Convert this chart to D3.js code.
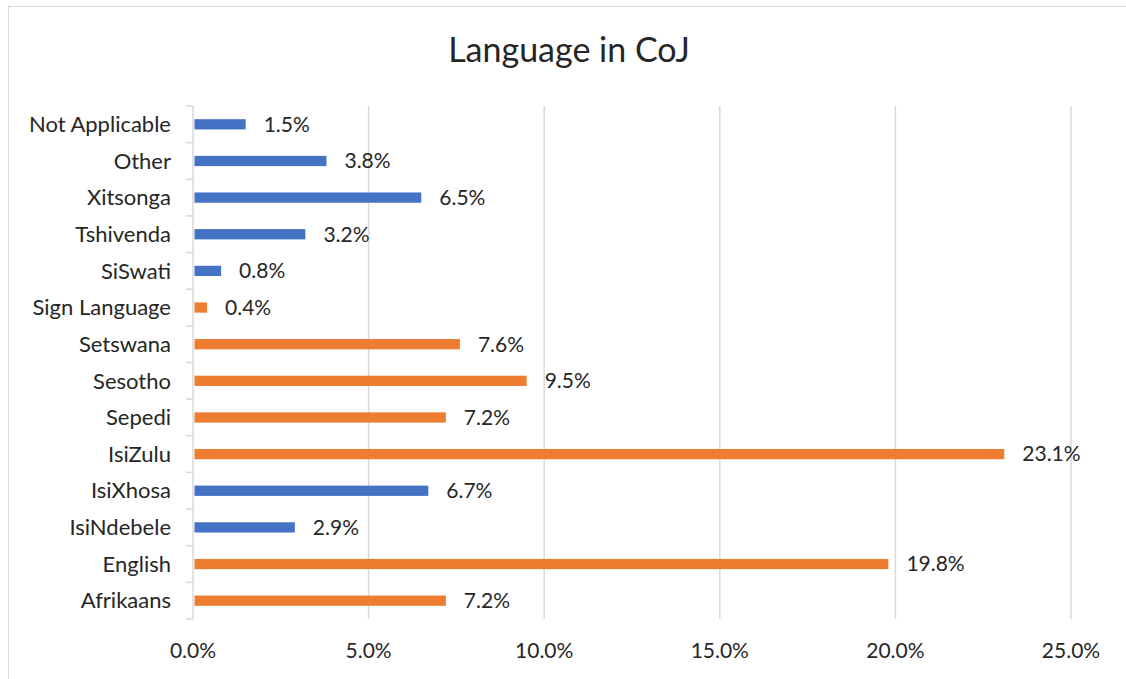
<!DOCTYPE html>
<meta charset="utf-8">
<head>
<script src="https://d3js.org/d3.v7.min.js"></script>
<style>
  body { margin: 0; background: #fff; }
  text { font-family: Lato, "Open Sans", sans-serif; fill: #262626; }
</style>
</head>
<body>
<svg id="chart" width="1126" height="679"></svg>
<script>
// data, bottom to top as in the chart
var languages = ["Afrikaans", "English", "IsiNdebele", "IsiXhosa", "IsiZulu", "Sepedi", "Sesotho",
  "Setswana", "Sign Language", "SiSwati", "Tshivenda", "Xitsonga", "Other", "Not Applicable"];
var shares = [7.2, 19.8, 2.9, 6.7, 23.1, 7.2, 9.5, 7.6, 0.4, 0.8, 3.2, 6.5, 3.8, 1.5];
var groups = ["o", "o", "b", "b", "o", "o", "o", "o", "o", "b", "b", "b", "b", "b"];
var ticks = [0, 5, 10, 15, 20, 25];

var colors = { o: "#ed7d31", b: "#4472c4" };

var svg = d3.select("#chart");

// chart border
svg.append("rect")
  .attr("x", 8.5).attr("y", 6.5)
  .attr("width", 1130).attr("height", 690)
  .attr("fill", "none")
  .attr("stroke", "#d9d9d9");

// title
svg.append("text")
  .attr("x", 569).attr("y", 62)
  .attr("text-anchor", "middle")
  .style("font-size", "34px")
  .text("Language in CoJ");

var x = d3.scaleLinear().domain([0, 25]).range([193, 1071]);
var y = d3.scaleBand()
  .domain(languages.slice().reverse())
  .range([106, 619])
  .paddingInner(0.72)
  .paddingOuter(0.36);

// gridlines
svg.append("g")
  .selectAll("line")
  .data(ticks.slice(1))
  .enter()
  .append("line")
    .attr("x1", d => x(d)).attr("x2", d => x(d))
    .attr("y1", 106).attr("y2", 619)
    .attr("stroke", "#d9d9d9")
    .attr("stroke-width", 1.5);

// x tick labels
svg.append("g")
  .selectAll("text")
  .data(ticks)
  .enter()
  .append("text")
    .attr("x", d => x(d))
    .attr("y", 658)
    .attr("text-anchor", "middle")
    .style("font-size", "21px")
    .text(d => d.toFixed(1) + "%");

// category axis line with tick marks between categories
var axis = svg.append("g");
axis.append("line")
  .attr("x1", 193).attr("x2", 193)
  .attr("y1", 106).attr("y2", 619)
  .attr("stroke", "#d9d9d9")
  .attr("stroke-width", 1.5);
axis.selectAll("line.tick")
  .data(d3.range(languages.length + 1))
  .enter()
  .append("line")
    .attr("class", "tick")
    .attr("x1", 186).attr("x2", 193)
    .attr("y1", d => 106 + d * (513 / languages.length))
    .attr("y2", d => 106 + d * (513 / languages.length))
    .attr("stroke", "#d9d9d9")
    .attr("stroke-width", 1.5);

// category labels
svg.append("g")
  .selectAll("text")
  .data(languages)
  .enter()
  .append("text")
    .attr("x", 171)
    .attr("y", d => y(d) + y.bandwidth() / 2)
    .attr("dy", "0.35em")
    .attr("text-anchor", "end")
    .style("font-size", "22px")
    .text(d => d);

// bars
svg.append("g")
  .selectAll("rect")
  .data(languages)
  .enter()
  .append("rect")
    .attr("x", x(0) + 1.5)
    .attr("y", d => y(d))
    .attr("width", (d, i) => x(shares[i]) - x(0) - 1.5)
    .attr("height", y.bandwidth())
    .attr("fill", (d, i) => colors[groups[i]]);

// value labels
svg.append("g")
  .selectAll("text")
  .data(languages)
  .enter()
  .append("text")
    .attr("x", (d, i) => x(shares[i]) + 18)
    .attr("y", d => y(d) + y.bandwidth() / 2)
    .attr("dy", "0.35em")
    .style("font-size", "21px")
    .text((d, i) => shares[i].toFixed(1) + "%");
</script>
</body>
